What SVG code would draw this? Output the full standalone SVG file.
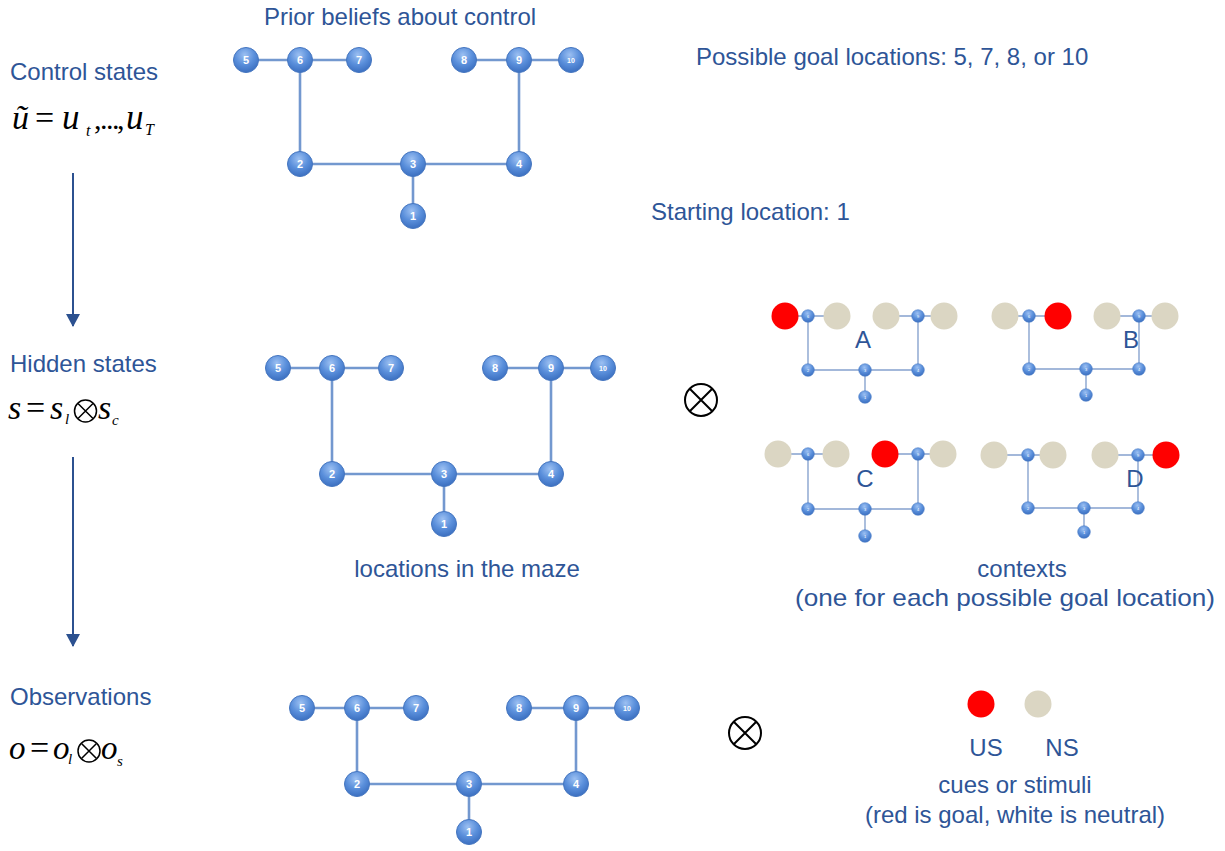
<svg xmlns="http://www.w3.org/2000/svg" width="1225" height="851" viewBox="0 0 1225 851">
<defs>
<radialGradient id="ng" cx="45%" cy="30%" r="70%">
<stop offset="0" stop-color="#9cc0f2"/>
<stop offset="0.55" stop-color="#5a8fdb"/>
<stop offset="1" stop-color="#3b6fc0"/>
</radialGradient>
<marker id="ah" viewBox="0 0 13 14" refX="12" refY="7" markerWidth="13" markerHeight="14" markerUnits="userSpaceOnUse" orient="auto">
<path d="M0,0 L13,7 L0,14 z" fill="#2c5190"/>
</marker>
<style>
.t{font-family:"Liberation Sans",Arial,sans-serif;font-size:24px;fill:#2e5597}
.m{font-family:"Liberation Serif","Times New Roman",serif;font-style:italic;fill:#000}
.mr{font-family:"Liberation Serif","Times New Roman",serif;fill:#000}
.n circle{fill:url(#ng);stroke:#4576c0;stroke-width:1}
.n text{font-family:"Liberation Sans",Arial,sans-serif;font-weight:bold;font-size:11px;fill:#fff;text-anchor:middle}
.n text.s{font-size:7px}
.sn circle{fill:url(#ng);stroke:#4f80c8;stroke-width:0.6}
.sn text{font-family:"Liberation Sans",Arial,sans-serif;font-size:4px;fill:#fff;text-anchor:middle}
.e{stroke:#7398cf;stroke-width:2.6;fill:none}
.se{stroke:#a3b8da;stroke-width:1.8;fill:none}
.red{fill:#ff0000}
.bg{fill:#dbd6c3}
.ot circle{fill:none;stroke:#000;stroke-width:2}
.ot path{stroke:#000;stroke-width:2}
.ot2 circle{fill:none;stroke:#000;stroke-width:1.5}
.ot2 path{stroke:#000;stroke-width:1.5}
.arr{stroke:#2c5190;stroke-width:2;marker-end:url(#ah)}
</style>
</defs>
<rect width="1225" height="851" fill="#fff"/>

<!-- left labels -->
<g id="labels-left">
<text class="t" x="10" y="80">Control states</text>
<text class="t" x="10" y="372">Hidden states</text>
<text class="t" x="10" y="705">Observations</text>
</g>

<g id="formula-u">
<text class="m" x="12" y="129" font-size="34">ũ</text>
<text class="mr" x="35" y="129" font-size="34">=</text>
<text class="m" x="62" y="129" font-size="35">u</text>
<text class="m" x="86" y="136" font-size="16">t</text>
<text class="mr" x="94 100 106 112 117" y="129" font-size="30">,...,</text>
<text class="m" x="126" y="129" font-size="35">u</text>
<text class="m" x="145" y="135" font-size="16">T</text>
</g>
<g id="formula-s">
<text class="m" x="8" y="419" font-size="34">s</text>
<text class="mr" x="26" y="419" font-size="34">=</text>
<text class="m" x="50" y="419" font-size="34">s</text>
<text class="m" x="65" y="424" font-size="15">l</text>
<g class="ot2"><circle cx="85.5" cy="411" r="11"/><path d="M78,403.5 L93,418.5 M93,403.5 L78,418.5"/></g>
<text class="m" x="98" y="419" font-size="34">s</text>
<text class="m" x="112" y="425" font-size="15">c</text>
</g>
<g id="formula-o">
<text class="m" x="9" y="759" font-size="33">o</text>
<text class="mr" x="30" y="759" font-size="34">=</text>
<text class="m" x="53" y="759" font-size="33">o</text>
<text class="m" x="68" y="764" font-size="15">l</text>
<g class="ot2"><circle cx="89" cy="751" r="11"/><path d="M81.5,743.5 L96.5,758.5 M96.5,743.5 L81.5,758.5"/></g>
<text class="m" x="101" y="759" font-size="33">o</text>
<text class="m" x="117" y="766" font-size="15">s</text>
</g>

<!-- connectors -->
<g id="connectors">
<line class="arr" x1="73" y1="173" x2="73" y2="326"/>
<line class="arr" x1="73" y1="457" x2="73" y2="646"/>
<!-- top maze -->
<path class="e" d="M246,60 H359 M464,60 H571 M300,60 V164 M519,60 V164 M300,164 H519 M413,164 V216"/>
<!-- hidden maze -->
<path class="e" d="M278,368 H391 M495,368 H603 M332,368 V474 M551,368 V474 M332,474 H551 M444,474 V524"/>
<!-- observation maze -->
<path class="e" d="M302,708 H416 M519,708 H627 M357,708 V784 M576,708 V784 M357,784 H576 M469,784 V832"/>
<!-- context mazes -->
<path class="se" d="M785,316 H837 M886,316 H944 M808,316 V370 M918,316 V370 M808,370 H918 M865,370 V397"/>
<path class="se" d="M1005,316 H1058 M1107,316 H1165 M1029,316 V369 M1139,316 V369 M1029,369 H1139 M1086,369 V395"/>
<path class="se" d="M778,454 H836 M885,454 H943 M808,454 V509 M918,454 V509 M808,509 H918 M865,509 V536"/>
<path class="se" d="M994,455 H1053 M1105,455 H1166 M1028,455 V508 M1138,455 V508 M1028,508 H1138 M1084,508 V532"/>
</g>

<!-- top maze nodes -->
<g id="top-maze">
<g id="t5" class="n"><circle cx="246" cy="60" r="12.5"/><text x="246" y="64">5</text></g>
<g id="t6" class="n"><circle cx="300" cy="60" r="12.5"/><text x="300" y="64">6</text></g>
<g id="t7" class="n"><circle cx="359" cy="60" r="12.5"/><text x="359" y="64">7</text></g>
<g id="t8" class="n"><circle cx="464" cy="60" r="12.5"/><text x="464" y="64">8</text></g>
<g id="t9" class="n"><circle cx="519" cy="60" r="12.5"/><text x="519" y="64">9</text></g>
<g id="t10" class="n"><circle cx="571" cy="60" r="12.5"/><text class="s" x="571" y="62.5">10</text></g>
<g id="t2" class="n"><circle cx="300" cy="164" r="12.5"/><text x="300" y="168">2</text></g>
<g id="t3" class="n"><circle cx="413" cy="164" r="12.5"/><text x="413" y="168">3</text></g>
<g id="t4" class="n"><circle cx="519" cy="164" r="12.5"/><text x="519" y="168">4</text></g>
<g id="t1" class="n"><circle cx="413" cy="216" r="12.5"/><text x="413" y="220">1</text></g>
</g>

<!-- hidden maze nodes -->
<g id="hidden-maze">
<g id="h5" class="n"><circle cx="278" cy="368" r="12.5"/><text x="278" y="372">5</text></g>
<g id="h6" class="n"><circle cx="332" cy="368" r="12.5"/><text x="332" y="372">6</text></g>
<g id="h7" class="n"><circle cx="391" cy="368" r="12.5"/><text x="391" y="372">7</text></g>
<g id="h8" class="n"><circle cx="495" cy="368" r="12.5"/><text x="495" y="372">8</text></g>
<g id="h9" class="n"><circle cx="551" cy="368" r="12.5"/><text x="551" y="372">9</text></g>
<g id="h10" class="n"><circle cx="603" cy="368" r="12.5"/><text class="s" x="603" y="370.5">10</text></g>
<g id="h2" class="n"><circle cx="332" cy="474" r="12.5"/><text x="332" y="478">2</text></g>
<g id="h3" class="n"><circle cx="444" cy="474" r="12.5"/><text x="444" y="478">3</text></g>
<g id="h4" class="n"><circle cx="551" cy="474" r="12.5"/><text x="551" y="478">4</text></g>
<g id="h1" class="n"><circle cx="444" cy="524" r="12.5"/><text x="444" y="528">1</text></g>
</g>

<!-- observation maze nodes -->
<g id="obs-maze">
<g id="o5" class="n"><circle cx="302" cy="708" r="12.5"/><text x="302" y="712">5</text></g>
<g id="o6" class="n"><circle cx="357" cy="708" r="12.5"/><text x="357" y="712">6</text></g>
<g id="o7" class="n"><circle cx="416" cy="708" r="12.5"/><text x="416" y="712">7</text></g>
<g id="o8" class="n"><circle cx="519" cy="708" r="12.5"/><text x="519" y="712">8</text></g>
<g id="o9" class="n"><circle cx="576" cy="708" r="12.5"/><text x="576" y="712">9</text></g>
<g id="o10" class="n"><circle cx="627" cy="708" r="12.5"/><text class="s" x="627" y="710.5">10</text></g>
<g id="o2" class="n"><circle cx="357" cy="784" r="12.5"/><text x="357" y="788">2</text></g>
<g id="o3" class="n"><circle cx="469" cy="784" r="12.5"/><text x="469" y="788">3</text></g>
<g id="o4" class="n"><circle cx="576" cy="784" r="12.5"/><text x="576" y="788">4</text></g>
<g id="o1" class="n"><circle cx="469" cy="832" r="12.5"/><text x="469" y="836">1</text></g>
</g>

<!-- context A -->
<g id="ctxA">
<circle class="red" cx="785" cy="316" r="13.5"/>
<circle class="bg" cx="837" cy="316" r="13.5"/>
<circle class="bg" cx="886" cy="316" r="13.5"/>
<circle class="bg" cx="944" cy="316" r="13.5"/>
<g class="sn"><circle cx="808" cy="316" r="6.3"/><text x="808" y="317.5">6</text></g>
<g class="sn"><circle cx="918" cy="316" r="6.3"/><text x="918" y="317.5">9</text></g>
<g class="sn"><circle cx="808" cy="370" r="6.3"/><text x="808" y="371.5">2</text></g>
<g class="sn"><circle cx="865" cy="370" r="6.3"/><text x="865" y="371.5">3</text></g>
<g class="sn"><circle cx="918" cy="370" r="6.3"/><text x="918" y="371.5">4</text></g>
<g class="sn"><circle cx="865" cy="397" r="6.3"/><text x="865" y="398.5">1</text></g>
<text class="t" x="863" y="348" text-anchor="middle">A</text>
</g>
<!-- context B -->
<g id="ctxB">
<circle class="bg" cx="1005" cy="316" r="13.5"/>
<circle class="red" cx="1058" cy="316" r="13.5"/>
<circle class="bg" cx="1107" cy="316" r="13.5"/>
<circle class="bg" cx="1165" cy="316" r="13.5"/>
<g class="sn"><circle cx="1029" cy="316" r="6.3"/><text x="1029" y="317.5">6</text></g>
<g class="sn"><circle cx="1139" cy="316" r="6.3"/><text x="1139" y="317.5">9</text></g>
<g class="sn"><circle cx="1029" cy="369" r="6.3"/><text x="1029" y="370.5">2</text></g>
<g class="sn"><circle cx="1086" cy="369" r="6.3"/><text x="1086" y="370.5">3</text></g>
<g class="sn"><circle cx="1139" cy="369" r="6.3"/><text x="1139" y="370.5">4</text></g>
<g class="sn"><circle cx="1086" cy="395" r="6.3"/><text x="1086" y="396.5">1</text></g>
<text class="t" x="1131" y="348" text-anchor="middle">B</text>
</g>
<!-- context C -->
<g id="ctxC">
<circle class="bg" cx="778" cy="454" r="13.5"/>
<circle class="bg" cx="836" cy="454" r="13.5"/>
<circle class="red" cx="885" cy="454" r="13.5"/>
<circle class="bg" cx="943" cy="454" r="13.5"/>
<g class="sn"><circle cx="808" cy="454" r="6.3"/><text x="808" y="455.5">6</text></g>
<g class="sn"><circle cx="918" cy="454" r="6.3"/><text x="918" y="455.5">9</text></g>
<g class="sn"><circle cx="808" cy="509" r="6.3"/><text x="808" y="510.5">2</text></g>
<g class="sn"><circle cx="865" cy="509" r="6.3"/><text x="865" y="510.5">3</text></g>
<g class="sn"><circle cx="918" cy="509" r="6.3"/><text x="918" y="510.5">4</text></g>
<g class="sn"><circle cx="865" cy="536" r="6.3"/><text x="865" y="537.5">1</text></g>
<text class="t" x="865" y="487" text-anchor="middle">C</text>
</g>
<!-- context D -->
<g id="ctxD">
<circle class="bg" cx="994" cy="455" r="13.5"/>
<circle class="bg" cx="1053" cy="455" r="13.5"/>
<circle class="bg" cx="1105" cy="455" r="13.5"/>
<circle class="red" cx="1166" cy="455" r="13.5"/>
<g class="sn"><circle cx="1028" cy="455" r="6.3"/><text x="1028" y="456.5">6</text></g>
<g class="sn"><circle cx="1138" cy="455" r="6.3"/><text x="1138" y="456.5">9</text></g>
<g class="sn"><circle cx="1028" cy="508" r="6.3"/><text x="1028" y="509.5">2</text></g>
<g class="sn"><circle cx="1084" cy="508" r="6.3"/><text x="1084" y="509.5">3</text></g>
<g class="sn"><circle cx="1138" cy="508" r="6.3"/><text x="1138" y="509.5">4</text></g>
<g class="sn"><circle cx="1084" cy="532" r="6.3"/><text x="1084" y="533.5">1</text></g>
<text class="t" x="1135" y="487" text-anchor="middle">D</text>
</g>

<!-- product symbols -->
<g id="otimes-hidden" class="ot"><circle cx="701" cy="400" r="16"/><path d="M690,389 L712,411 M712,389 L690,411"/></g>
<g id="otimes-obs" class="ot"><circle cx="745" cy="733" r="16"/><path d="M734,722 L756,744 M756,722 L734,744"/></g>

<!-- stimuli legend -->
<g id="stimuli">
<circle class="red" cx="981" cy="704" r="13.5"/>
<circle class="bg" cx="1038" cy="704" r="13.5"/>
<text class="t" x="986" y="756" text-anchor="middle">US</text>
<text class="t" x="1062" y="756" text-anchor="middle">NS</text>
</g>

<!-- other text -->
<g id="texts">
<text class="t" x="400" y="25" text-anchor="middle">Prior beliefs about control</text>
<text class="t" x="696" y="65">Possible goal locations: 5, 7, 8, or 10</text>
<text class="t" x="651" y="220">Starting location: 1</text>
<text class="t" x="467" y="577" text-anchor="middle">locations in the maze</text>
<text class="t" x="1022" y="577" text-anchor="middle">contexts</text>
<text class="t" x="795" y="606" font-size="25" textLength="420" lengthAdjust="spacingAndGlyphs">(one for each possible goal location)</text>
<text class="t" x="1015" y="793" text-anchor="middle">cues or stimuli</text>
<text class="t" x="1015" y="823" text-anchor="middle">(red is goal, white is neutral)</text>
</g>
</svg>
